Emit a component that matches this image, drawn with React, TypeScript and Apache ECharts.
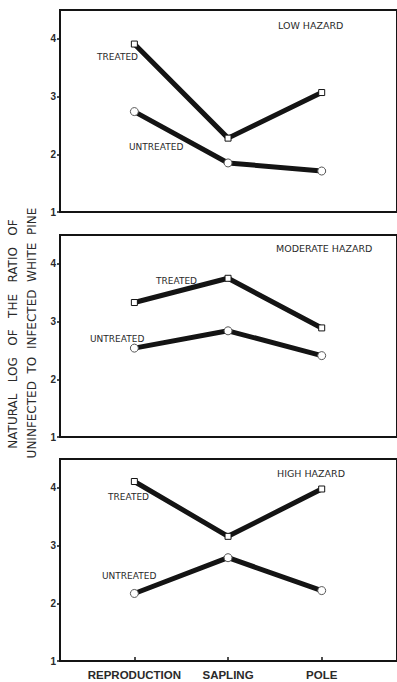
import React, { useEffect, useRef } from 'react';
import * as echarts from 'echarts';

const stages = ['REPRODUCTION', 'SAPLING', 'POLE'];
const stageIndex = [0, 1, 2];
const yTicks = [1, 2, 3, 4];
const panelTitles = ['LOW HAZARD', 'MODERATE HAZARD', 'HIGH HAZARD'];
const seriesNames = ['TREATED', 'UNTREATED'];
const yTitleLine1 = 'NATURAL   LOG   OF   THE   RATIO   OF';
const yTitleLine2 = 'UNINFECTED  TO  INFECTED  WHITE  PINE';

const lowTreated = [3.91, 2.28, 3.07];
const lowUntreated = [2.74, 1.85, 1.71];
const moderateTreated = [3.33, 3.75, 2.89];
const moderateUntreated = [2.54, 2.84, 2.41];
const highTreated = [4.11, 3.16, 3.98];
const highUntreated = [2.17, 2.79, 2.22];

const panels = [
  { treated: lowTreated, untreated: lowUntreated },
  { treated: moderateTreated, untreated: moderateUntreated },
  { treated: highTreated, untreated: highUntreated },
];

// layout
const gridTops = [10, 235, 459];
const gridHeight = 202;
const INK = '#141414';
const TEXT = '#2a2a2a';

// annotation positions [titleX, titleY, treatedX, treatedY, untreatedX, untreatedY]
const annot = [
  [278, 25, 97, 57, 129, 147],
  [276, 248, 156, 281, 90, 339],
  [277, 473, 108, 497, 102, 576],
];

export default function App() {
  const ref = useRef<HTMLDivElement>(null);
  useEffect(() => {
    if (!ref.current) return;
    const chart = echarts.init(ref.current, null, { renderer: 'svg' });

    const grid = gridTops.map((t) => ({
      left: 60,
      right: -3,
      top: t,
      height: gridHeight,
      show: true,
      borderColor: INK,
      borderWidth: 2,
      backgroundColor: 'transparent',
    }));

    const xAxis = gridTops.map((_, i) => ({
      type: 'value',
      gridIndex: i,
      min: -0.794,
      max: 2.804,
      splitLine: { show: false },
      axisLine: { show: true, onZero: false, lineStyle: { color: INK, width: 2 } },
      axisTick: {
        show: i === 2,
        inside: true,
        length: 4,
        customValues: stageIndex,
        lineStyle: { color: INK, width: 1.5 },
      },
      axisLabel: {
        show: i === 2,
        customValues: stageIndex,
        formatter: (v: number) => stages[Math.round(v)] ?? '',
        fontFamily: 'Liberation Sans',
        fontWeight: 'bold',
        fontSize: 11.5,
        color: TEXT,
        margin: 8,
      },
    }));

    const yAxis = gridTops.map((_, i) => ({
      type: 'value',
      gridIndex: i,
      min: 1,
      max: 4.5,
      interval: 1,
      splitLine: { show: false },
      axisLine: { show: true, onZero: false, lineStyle: { color: INK, width: 2 } },
      axisTick: { show: true, length: 3, customValues: yTicks, lineStyle: { color: INK, width: 1.5 } },
      axisLabel: {
        customValues: yTicks,
        fontFamily: 'Liberation Sans',
        fontWeight: 'bold',
        fontSize: 10,
        color: TEXT,
        margin: 4,
      },
    }));

    const series: any[] = [];
    panels.forEach((p, i) => {
      series.push({
        type: 'line',
        name: seriesNames[0] + i,
        xAxisIndex: i,
        yAxisIndex: i,
        data: stageIndex.map((x) => [x, p.treated[x]]),
        lineStyle: { color: INK, width: 5 },
        symbol: 'rect',
        symbolSize: 6,
        itemStyle: { color: '#fff', borderColor: INK, borderWidth: 1 },
        z: 3,
      });
      series.push({
        type: 'line',
        name: seriesNames[1] + i,
        xAxisIndex: i,
        yAxisIndex: i,
        data: stageIndex.map((x) => [x, p.untreated[x]]),
        lineStyle: { color: INK, width: 5 },
        symbol: 'circle',
        symbolSize: 8,
        itemStyle: { color: '#fff', borderColor: '#555', borderWidth: 1 },
        z: 3,
      });
    });

    const graphic: any[] = [];
    annot.forEach((a, i) => {
      graphic.push({
        type: 'text', x: a[0], y: a[1],
        style: { text: panelTitles[i], fontFamily: 'DejaVu Sans', fontSize: 9.5, fill: TEXT, textAlign: 'left', textVerticalAlign: 'middle' },
      });
      graphic.push({
        type: 'text', x: a[2], y: a[3],
        style: { text: seriesNames[0], fontFamily: 'DejaVu Sans', fontSize: 9, fill: TEXT, textAlign: 'left', textVerticalAlign: 'middle' },
      });
      graphic.push({
        type: 'text', x: a[4], y: a[5],
        style: { text: seriesNames[1], fontFamily: 'DejaVu Sans', fontSize: 9, fill: TEXT, textAlign: 'left', textVerticalAlign: 'middle' },
      });
    });
    graphic.push({
      type: 'text', x: 13, y: 334, rotation: Math.PI / 2,
      style: { text: yTitleLine1, fontFamily: 'DejaVu Sans', fontSize: 12, fill: TEXT, textAlign: 'center', textVerticalAlign: 'middle' },
    });
    graphic.push({
      type: 'text', x: 32, y: 333, rotation: Math.PI / 2,
      style: { text: yTitleLine2, fontFamily: 'DejaVu Sans', fontSize: 12, fill: TEXT, textAlign: 'center', textVerticalAlign: 'middle' },
    });

    chart.setOption({
      animation: false,
      backgroundColor: '#fff',
      grid,
      xAxis,
      yAxis,
      series,
      graphic,
    });
    return () => chart.dispose();
  }, []);
  return <div ref={ref} style={{ position: 'absolute', left: 0, top: 0, width: 397, height: 682 }} />;
}
